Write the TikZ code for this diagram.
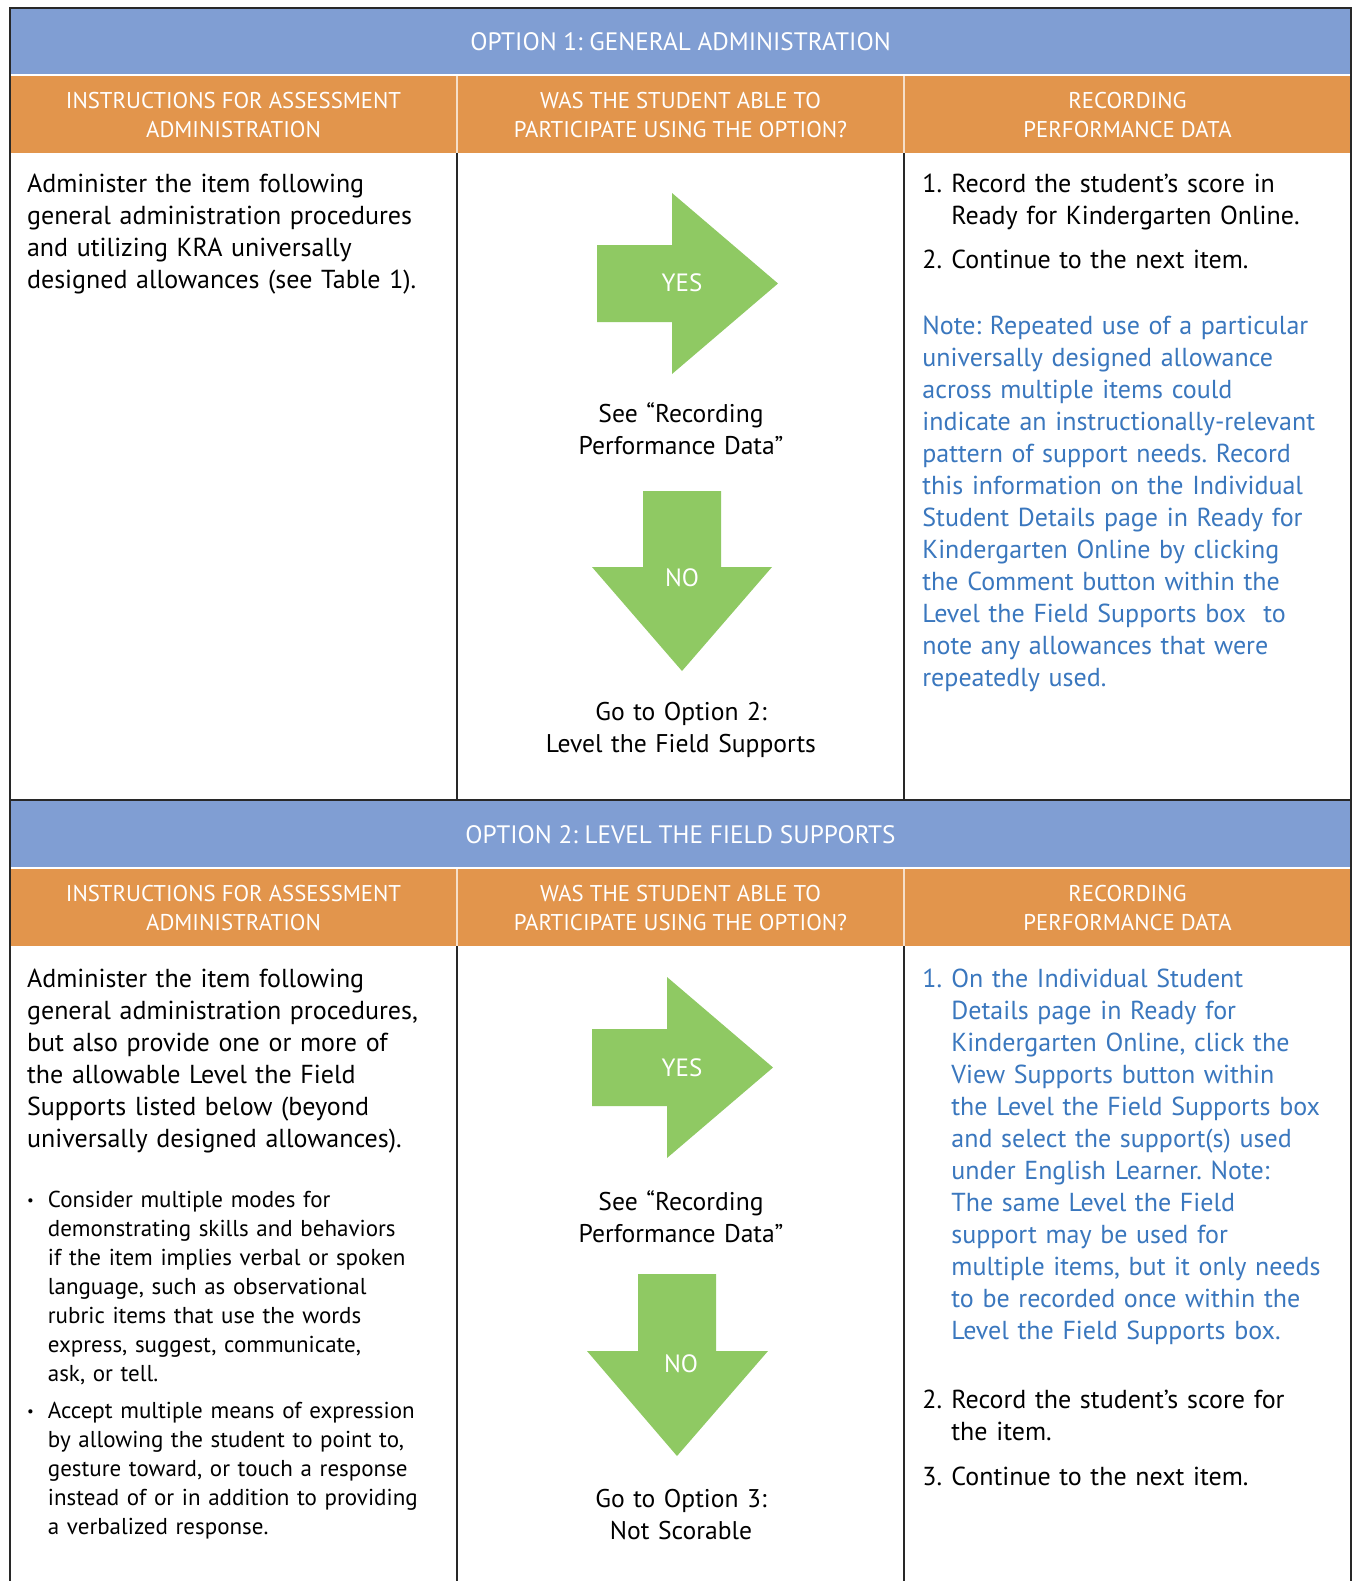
\documentclass[tikz,border=0pt]{standalone}
\usepackage{fontspec}
\setmainfont{PT Sans}
\frenchspacing
\definecolor{optblue}{RGB}{128,158,211}
\definecolor{hdrorange}{RGB}{226,149,76}
\definecolor{yesgreen}{RGB}{143,201,99}
\definecolor{noteblue}{RGB}{58,119,190}
\definecolor{rulegray}{RGB}{40,40,40}
\newcommand{\numlbl}[1]{\makebox[14.5pt][l]{#1}}
\newcommand{\contline}{\hspace*{14.5pt}}
\newcommand{\bullbl}{\makebox[10.4pt][l]{\raisebox{0.9pt}{\scalebox{0.65}{\textbullet}}}}
\newcommand{\bulcont}{\hspace*{10.4pt}}

\begin{document}
\begin{tikzpicture}[x=0.5pt,y=-0.5pt,
		band/.style={fill=optblue},
		hdr/.style={fill=hdrorange},
		rule/.style={draw=rulegray,line width=1pt},
		sep/.style={draw=white!70!hdrorange,line width=1pt},
		bigarrow/.style={fill=yesgreen},
		title/.style={text=white,inner sep=0,font=\fontsize{12.6}{14.5}\selectfont},
		colhead/.style={text=white,inner sep=0,align=center,font=\fontsize{11.4}{14.5}\selectfont},
		body/.style={anchor=base west,inner sep=0,text width=215pt,align=left,font=\fontsize{13}{16}\selectfont},
		note/.style={body,text=noteblue},
		mid/.style={anchor=base,inner sep=0,text width=200pt,align=center,font=\fontsize{12.8}{16}\selectfont},
		bulleted/.style={anchor=base west,inner sep=0,text width=215pt,align=left,font=\fontsize{11.5}{14.5}\selectfont},
		arrowtext/.style={text=white,inner sep=0,font=\fontsize{12.5}{15}\selectfont}]
	\useasboundingbox[fill=white] (0,0) rectangle (1353,1581);

	\fill[band] (10,8) rectangle (1351,74);
	\fill[hdr] (10,76) rectangle (1351,153);
	\fill[band] (10,801) rectangle (1351,867);
	\fill[hdr] (10,869) rectangle (1351,946);
	\draw[sep] (457,76) -- (457,153) (904,76) -- (904,153);
	\draw[sep] (457,869) -- (457,946) (904,869) -- (904,946);
	\draw[rule] (457,153) -- (457,800) (904,153) -- (904,800);
	\draw[rule] (457,946) -- (457,1581) (904,946) -- (904,1581);
	\draw[rule] (10,800) -- (1351,800);
	\draw[rule] (10,1581) -- (10,8) -- (1351,8) -- (1351,1581);

	\node[title] (opt1) at (680.5,42) {OPTION 1: GENERAL ADMINISTRATION};
	\node[colhead] (instr1) at (233.5,115.5) {INSTRUCTIONS FOR ASSESSMENT\\ADMINISTRATION};
	\node[colhead] (able1) at (680.5,115.5) {WAS THE STUDENT ABLE TO\\PARTICIPATE USING THE OPTION?};
	\node[colhead] (rec1) at (1127.5,115.5) {RECORDING\\PERFORMANCE DATA};

	\node[body] (admin1) at (26.7,192) {Administer the item following\\general administration procedures\\and utilizing KRA universally\\designed allowances (see Table 1).};

	\fill[bigarrow] (597,245) -- (672,245) -- (672,193) -- (778,283.5) -- (672,374) -- (672,322) -- (597,322) -- cycle;
	\node[arrowtext] (yes1) at (682,283) {YES};
	\node[mid] (see1) at (681,422) {See “Recording\\Performance Data”};
	\fill[bigarrow] (643,491) -- (721,491) -- (721,567) -- (772,567) -- (682,671) -- (592,567) -- (643,567) -- cycle;
	\node[arrowtext] (no1) at (682,578) {NO};
	\node[mid] (goto2) at (681,720) {Go to Option 2:\\Level the Field Supports};

	\node[body] (rec1a) at (922,192) {\numlbl{1.}Record the student’s score in\\\contline Ready for Kindergarten Online.};
	\node[body] (rec1b) at (922,268) {\numlbl{2.}Continue to the next item.};
	\node[note] (note1) at (922,334) {Note: Repeated use of a particular\\universally designed allowance\\across multiple items could\\indicate an instructionally-relevant\\pattern of support needs. Record\\this information on the Individual\\Student Details page in Ready for\\Kindergarten Online by clicking\\the Comment button within the\\Level the Field Supports box \ to\\note any allowances that were\\repeatedly used.};

	\node[title] (opt2) at (680.5,835) {OPTION 2: LEVEL THE FIELD SUPPORTS};
	\node[colhead] (instr2) at (233.5,908.5) {INSTRUCTIONS FOR ASSESSMENT\\ADMINISTRATION};
	\node[colhead] (able2) at (680.5,908.5) {WAS THE STUDENT ABLE TO\\PARTICIPATE USING THE OPTION?};
	\node[colhead] (rec2) at (1127.5,908.5) {RECORDING\\PERFORMANCE DATA};

	\node[body] (admin2) at (26.7,987) {Administer the item following\\general administration procedures,\\but also provide one or more of\\the allowable Level the Field\\Supports listed below (beyond\\universally designed allowances).};
	\node[bulleted] (modes) at (26.7,1207) {\bullbl Consider multiple modes for\\\bulcont demonstrating skills and behaviors\\\bulcont if the item implies verbal or spoken\\\bulcont language, such as observational\\\bulcont rubric items that use the words\\\bulcont express, suggest, communicate,\\\bulcont ask, or tell.};
	\node[bulleted] (means) at (26.7,1418) {\bullbl Accept multiple means of expression\\\bulcont by allowing the student to point to,\\\bulcont gesture toward, or touch a response\\\bulcont instead of or in addition to providing\\\bulcont a verbalized response.};

	\fill[bigarrow] (592,1029) -- (667,1029) -- (667,977) -- (773,1067.5) -- (667,1158) -- (667,1106) -- (592,1106) -- cycle;
	\node[arrowtext] (yes2) at (682,1068) {YES};
	\node[mid] (see2) at (681,1210) {See “Recording\\Performance Data”};
	\fill[bigarrow] (638,1274) -- (716,1274) -- (716,1351) -- (768,1351) -- (677,1456) -- (587,1351) -- (638,1351) -- cycle;
	\node[arrowtext] (no2) at (681,1364) {NO};
	\node[mid] (goto3) at (681,1507) {Go to Option 3:\\Not Scorable};

	\node[note] (rec2a) at (922,987) {\numlbl{1.}On the Individual Student\\\contline Details page in Ready for\\\contline Kindergarten Online, click the\\\contline View Supports button within\\\contline the Level the Field Supports box\\\contline and select the support(s) used\\\contline under English Learner. Note:\\\contline The same Level the Field\\\contline support may be used for\\\contline multiple items, but it only needs\\\contline to be recorded once within the\\\contline Level the Field Supports box.};
	\node[body] (rec2b) at (922,1408) {\numlbl{2.}Record the student’s score for\\\contline the item.};
	\node[body] (rec2c) at (922,1485) {\numlbl{3.}Continue to the next item.};
\end{tikzpicture}
\end{document}
